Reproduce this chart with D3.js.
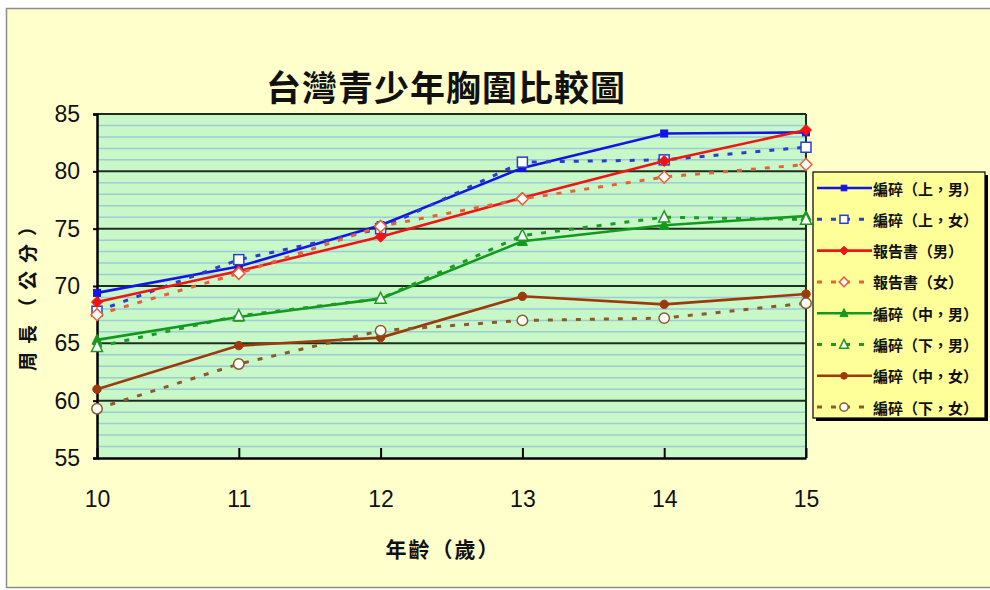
<!DOCTYPE html>
<html>
<head>
<meta charset="utf-8">
<script src="https://cdn.jsdelivr.net/npm/d3@7/dist/d3.min.js"></script>
<style>
  html, body { margin: 0; padding: 0; background: #ffffff; }
  svg { display: block; }
</style>
</head>
<body>
<svg id="chart" width="990" height="590"></svg>
<script>
// Ages on the x axis
const ages = [10, 11, 12, 13, 14, 15];

// Chest circumference (cm) by series
const upperMale    = [69.4, 71.7, 75.3, 80.3, 83.3, 83.4];
const upperFemale  = [67.8, 72.3, 75.0, 80.8, 81.0, 82.1];
const reportMale   = [68.6, 71.3, 74.3, 77.7, 80.9, 83.6];
const reportFemale = [67.5, 71.1, 75.2, 77.6, 79.5, 80.6];
const middleMale   = [65.3, 67.3, 68.9, 73.9, 75.3, 76.1];
const lowerMale    = [64.7, 67.4, 68.9, 74.4, 76.0, 75.8];
const middleFemale = [61.0, 64.8, 65.5, 69.1, 68.4, 69.3];
const lowerFemale  = [59.3, 63.2, 66.1, 67.0, 67.2, 68.5];

// Axis ticks
const yTicks = [55, 60, 65, 70, 75, 80, 85];
const xTicks = [10, 11, 12, 13, 14, 15];

// Series labels
const seriesNames = [
  "編碎（上，男）", "編碎（上，女）", "報告書（男）", "報告書（女）",
  "編碎（中，男）", "編碎（下，男）", "編碎（中，女）", "編碎（下，女）"
];

const series = [
  { name: seriesNames[0], values: upperMale,    color: "#1414e6", dash: null,  marker: "square",   filled: true  },
  { name: seriesNames[1], values: upperFemale,  color: "#2a3fc8", dash: "5,9", marker: "square",   filled: false },
  { name: seriesNames[2], values: reportMale,   color: "#f01414", dash: null,  marker: "diamond",  filled: true  },
  { name: seriesNames[3], values: reportFemale, color: "#e8603a", dash: "5,9", marker: "diamond",  filled: false },
  { name: seriesNames[4], values: middleMale,   color: "#129a1e", dash: null,  marker: "triangle", filled: true  },
  { name: seriesNames[5], values: lowerMale,    color: "#1c9a22", dash: "5,9", marker: "triangle", filled: false },
  { name: seriesNames[6], values: middleFemale, color: "#9c3a0c", dash: null,  marker: "circle",   filled: true  },
  { name: seriesNames[7], values: lowerFemale,  color: "#8a5a2a", dash: "5,9", marker: "circle",   filled: false }
];

const svg = d3.select("#chart");
const cjk = "'Noto Sans CJK TC', 'Noto Sans CJK SC', sans-serif";
const latin = "'Liberation Sans', Arial, sans-serif";

// Outer frame
svg.append("rect")
  .attr("x", 6.5).attr("y", 8.5).attr("width", 1000).attr("height", 579)
  .attr("fill", "#ffffcc").attr("stroke", "#8c8c8c").attr("stroke-width", 1.5);

const plot = { left: 97, right: 806, top: 114, bottom: 458 };

const x = d3.scaleLinear().domain([10, 15]).range([plot.left, plot.right]);
const y = d3.scaleLinear().domain([55, 85]).range([plot.bottom, plot.top]);

// Plot background
svg.append("rect")
  .attr("x", plot.left).attr("y", plot.top)
  .attr("width", plot.right - plot.left).attr("height", plot.bottom - plot.top)
  .attr("fill", "#c8f8c8");

// Minor gridlines every 1 cm
const minor = d3.range(56, 85).filter(v => v % 5 !== 0);
svg.append("g").selectAll("line").data(minor).join("line")
  .attr("x1", plot.left).attr("x2", plot.right)
  .attr("y1", d => y(d)).attr("y2", d => y(d))
  .attr("stroke", "#9cccd4").attr("stroke-width", 1.5);

// Major gridlines
svg.append("g").selectAll("line").data(yTicks.filter(v => v > 55)).join("line")
  .attr("x1", plot.left).attr("x2", plot.right)
  .attr("y1", d => y(d)).attr("y2", d => y(d))
  .attr("stroke", "#1e2e1e").attr("stroke-width", 2);

// Right border of plot
svg.append("line")
  .attr("x1", plot.right).attr("x2", plot.right)
  .attr("y1", plot.top).attr("y2", plot.bottom)
  .attr("stroke", "#1e2e1e").attr("stroke-width", 2);

// Y axis
const yAxis = svg.append("g")
  .attr("transform", `translate(${plot.left},0)`)
  .call(d3.axisLeft(y).tickValues(yTicks).tickSize(4).tickPadding(13));
yAxis.select(".domain").attr("stroke", "#000").attr("stroke-width", 2.5);
yAxis.selectAll(".tick line").attr("stroke", "#000").attr("stroke-width", 2);
yAxis.selectAll(".tick text")
  .attr("font-family", latin).attr("font-size", 23).attr("fill", "#111");

// X axis with inward ticks
const xAxis = svg.append("g")
  .attr("transform", `translate(0,${plot.bottom})`)
  .call(d3.axisBottom(x).tickValues(xTicks).tickSizeInner(-10).tickSizeOuter(0).tickPadding(33).tickFormat(d3.format("d")));
xAxis.select(".domain").attr("stroke", "#000").attr("stroke-width", 2.5);
xAxis.selectAll(".tick line").attr("stroke", "#000").attr("stroke-width", 2);
xAxis.selectAll(".tick text")
  .attr("font-family", latin).attr("font-size", 23).attr("fill", "#111");

// Marker drawing
function drawMarker(sel, shape, filled, color, big) {
  const k = big ? 1 : 0.8;
  const fill = filled ? color : "#ffffff";
  const sw = filled ? 1 : 1.5;
  if (shape === "square") {
    const s = filled ? 7 * k : 10 * k;
    sel.append("rect").attr("x", -s / 2).attr("y", -s / 2).attr("width", s).attr("height", s)
      .attr("fill", fill).attr("stroke", color).attr("stroke-width", sw);
  } else if (shape === "diamond") {
    const s = filled ? 5.5 * k : 6 * k;
    sel.append("path").attr("d", `M0,${-s}L${s},0L0,${s}L${-s},0Z`)
      .attr("fill", fill).attr("stroke", color).attr("stroke-width", sw);
  } else if (shape === "triangle") {
    const s = filled ? 5 * k : 5.5 * k;
    sel.append("path").attr("d", `M0,${-s * 1.15}L${s},${s * 0.85}L${-s},${s * 0.85}Z`)
      .attr("fill", fill).attr("stroke", color).attr("stroke-width", sw);
  } else {
    const r = filled ? 4.2 * k : 5.2 * k;
    sel.append("circle").attr("r", r)
      .attr("fill", fill).attr("stroke", color).attr("stroke-width", sw);
  }
}

// Lines and markers
const line = d3.line().x((d, i) => x(ages[i])).y(d => y(d));
const seriesG = svg.append("g");
series.forEach(s => {
  seriesG.append("path")
    .attr("d", line(s.values))
    .attr("fill", "none")
    .attr("stroke", s.color)
    .attr("stroke-width", s.dash ? 3 : 2.6)
    .attr("stroke-dasharray", s.dash);
  s.values.forEach((v, i) => {
    const g = seriesG.append("g").attr("transform", `translate(${x(ages[i])},${y(v)})`);
    drawMarker(g, s.marker, s.filled, s.color, true);
  });
});

// Title
svg.append("text")
  .attr("x", 446).attr("y", 101)
  .attr("text-anchor", "middle")
  .attr("font-family", cjk).attr("font-size", 35).attr("font-weight", 700)
  .attr("letter-spacing", 1)
  .attr("fill", "#111")
  .text("台灣青少年胸圍比較圖");

// Axis titles
svg.append("text")
  .attr("transform", "translate(26,290) rotate(-90)")
  .attr("text-anchor", "middle").attr("dominant-baseline", "central")
  .attr("font-family", cjk).attr("font-size", 19).attr("font-weight", 700)
  .attr("letter-spacing", 8).attr("fill", "#111")
  .text("周長（公分）");

svg.append("text")
  .attr("x", 443).attr("y", 557)
  .attr("text-anchor", "middle")
  .attr("font-family", cjk).attr("font-size", 21).attr("font-weight", 700)
  .attr("letter-spacing", 2).attr("fill", "#111")
  .text("年齡（歲）");

// Legend
const lg = { x: 813, y: 172, w: 172, h: 246 };
svg.append("rect")
  .attr("x", lg.x + 3).attr("y", lg.y + 3).attr("width", lg.w).attr("height", lg.h)
  .attr("fill", "#000");
svg.append("rect")
  .attr("x", lg.x).attr("y", lg.y).attr("width", lg.w).attr("height", lg.h)
  .attr("fill", "#ffff99").attr("stroke", "#000").attr("stroke-width", 1.2);

series.forEach((s, i) => {
  const cy = 188 + i * 31.3;
  const row = svg.append("g").attr("transform", `translate(0,${cy})`);
  row.append("line")
    .attr("x1", 817).attr("x2", 872).attr("y1", 0).attr("y2", 0)
    .attr("stroke", s.color).attr("stroke-width", s.dash ? 3 : 2.6)
    .attr("stroke-dasharray", s.dash);
  const m = row.append("g").attr("transform", "translate(844,0)");
  drawMarker(m, s.marker, s.filled, s.color, false);
  row.append("text")
    .attr("x", 873).attr("y", 0).attr("dominant-baseline", "central")
    .attr("font-family", cjk).attr("font-size", 15).attr("font-weight", 700)
    .attr("fill", "#111")
    .text(s.name);
});
</script>
</body>
</html>
